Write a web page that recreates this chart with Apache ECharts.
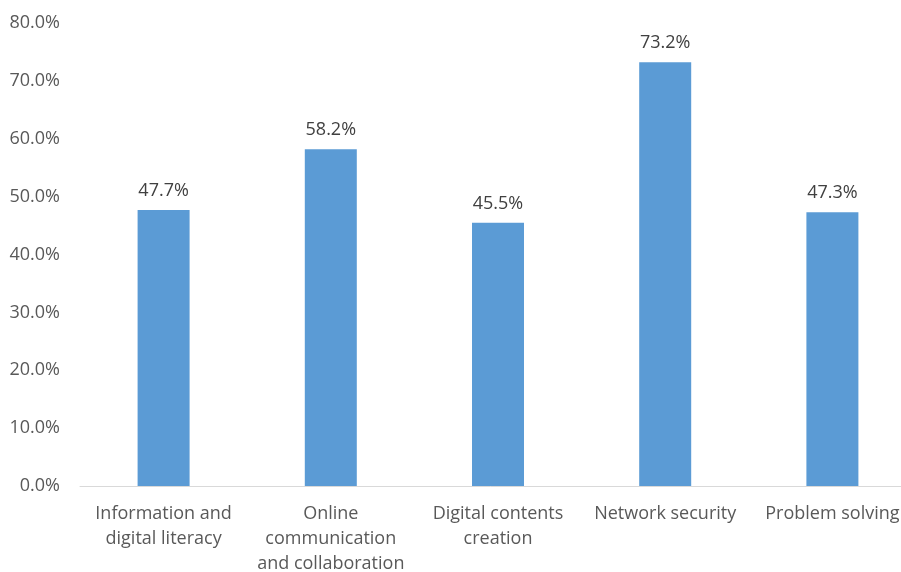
<!DOCTYPE html>
<html>
<head>
<meta charset="utf-8">
<script src="https://cdn.jsdelivr.net/npm/echarts@6/dist/echarts.min.js"></script>
<style>html,body{margin:0;padding:0;background:#fff}#c{width:901px;height:572px}</style>
</head>
<body>
<div id="c"></div>
<script>
const categories = ["Information and\ndigital literacy", "Online\ncommunication\nand collaboration", "Digital contents\ncreation", "Network security", "Problem solving"];
const values = [47.7, 58.2, 45.5, 73.2, 47.3];
const yTicks = [0, 10, 20, 30, 40, 50, 60, 70, 80];

const chart = echarts.init(document.getElementById('c'), null, {renderer: 'canvas'});
chart.setOption({
  animation: false,
  backgroundColor: '#ffffff',
  textStyle: {fontFamily: 'Open Sans'},
  grid: {left: 80, width: 836, top: 23, bottom: 86, containLabel: false, outerBoundsMode: 'none'},
  xAxis: {
    type: 'category',
    data: categories,
    axisLine: {lineStyle: {color: '#d9d9d9', width: 1}},
    axisTick: {show: false},
    axisLabel: {color: '#595959', fontSize: 18, fontFamily: 'Open Sans', lineHeight: 25, margin: 15, interval: 0, hideOverlap: false}
  },
  yAxis: {
    type: 'value',
    min: yTicks[0], max: yTicks[yTicks.length - 1], interval: 10,
    splitLine: {show: false},
    axisLine: {show: false},
    axisTick: {show: false},
    axisLabel: {color: '#595959', fontSize: 18, fontFamily: 'Open Sans', margin: 20,
      formatter: v => v.toFixed(1) + '%'}
  },
  series: [{
    type: 'bar',
    data: values,
    barWidth: 52,
    itemStyle: {color: '#5b9bd5'},
    label: {show: true, position: 'top', distance: 10, color: '#404040', fontSize: 18, fontFamily: 'Open Sans',
      formatter: p => p.value.toFixed(1) + '%'}
  }]
});
</script>
</body>
</html>
